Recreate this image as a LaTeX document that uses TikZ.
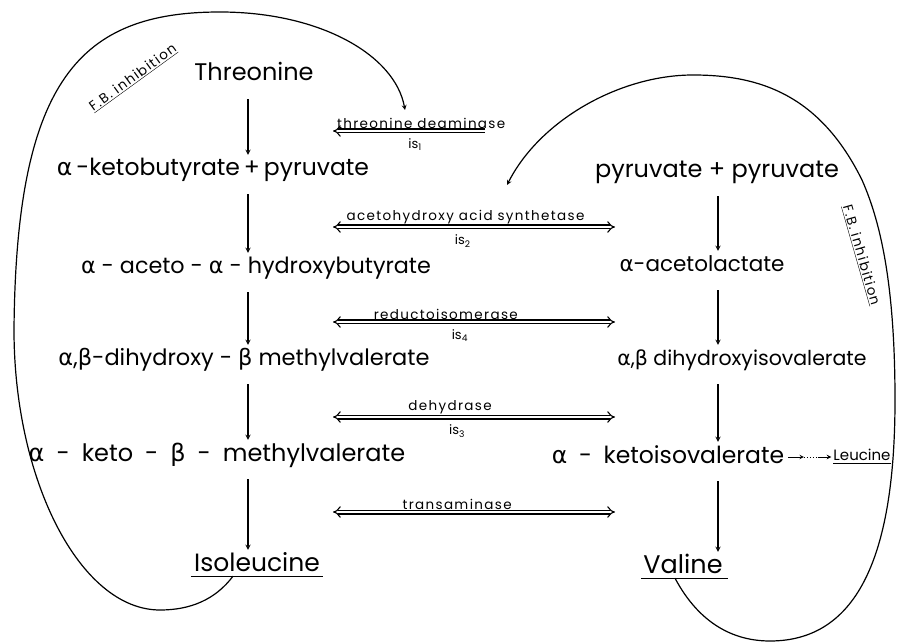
\documentclass[tikz,border=0pt]{standalone}
\usepackage{fontspec}
\setmainfont{Poppins}
\newfontfamily\grk{DejaVu Sans}
\newfontfamily\spaced{Poppins}[LetterSpace=10]
\usetikzlibrary{positioning, arrows, arrows.meta}
\tikzset{
    chem/.style={ % metabolites of the two pathways
        font=\fontsize{#1}{26}\selectfont,
        inner sep=0pt, text height=17pt, text depth=5pt
    },
    chem/.default=23,
    enz/.style={ % enzyme names sitting on the double arrows
        font=\spaced\fontsize{13.5}{15}\selectfont, inner sep=2pt
    },
    iso/.style={font=\fontsize{13}{15}\selectfont, inner sep=1pt},
    every edge/.style={ % the single reaction steps
        draw,
        ->,>=stealth,
        line width=1.3pt,
        shorten <=13pt, shorten >=4pt
    },
    dbl/.style={draw, double, double distance=2.8pt, line width=1.1pt, {Implies}-{Implies}},
    fb/.style={->,>=stealth, line width=1.2pt}, % feedback loops
    uline/.style={line width=1.4pt},
}
\newcommand{\alp}{{\grk α}}
\newcommand{\bet}{{\grk β}}

\begin{document}
\begin{tikzpicture}[x=1pt, y=-1pt]
    \useasboundingbox (0,0) rectangle (897,644);
    \coordinate (lcol) at (248,0);
    \coordinate (rcol) at (718,0);
    % isoleucine branch
    \node[chem=24] (thr) at (254,75)  {Threonine};
    \node[chem=23.5] (kb)  at (213,170) {\alp\,-ketobutyrate\,+\,pyruvate};
    \node[chem=22.3] (aab) at (256,268) {\alp\ - aceto - \alp\ - hydroxybutyrate};
    \node[chem=22.5] (dhm) at (244,360) {\alp,\bet-dihydroxy - \bet\ methylvalerate};
    \node[chem=24] (kbm) at (217,455) {\alp\enspace-\enspace keto\enspace-\enspace\bet\enspace-\enspace methylvalerate};
    \node[chem=25] (ile) at (257,565) {Isoleucine};
    % valine branch
    \node[chem=24] (pp)  at (717,172) {pyruvate + pyruvate};
    \node[chem=21.5] (al)  at (702,266) {\alp-acetolactate};
    \node[chem=20.5] (dhi) at (742,360) {\alp,\bet\ dihydroxyisovalerate};
    \node[chem=23.5] (kiv) at (668,457) {\alp\enspace-\enspace ketoisovalerate};
    \node[chem, font=\fontsize{15}{16}\selectfont, text height=10pt, text depth=3pt]
                (leu) at (862,457) {Leucine};
    \node[chem=25.5] (val) at (683,567) {Valine};

    \draw   (thr.south -| lcol) edge (kb.north -| lcol)
            (kb.south -| lcol)  edge (aab.north -| lcol)
            (aab.south -| lcol) edge (dhm.north -| lcol)
            (dhm.south -| lcol) edge (kbm.north -| lcol)
            (kbm.south -| lcol) edge (ile.north -| lcol)
            (pp.south -| rcol)  edge (al.north -| rcol)
            (al.south -| rcol)  edge (dhi.north -| rcol)
            (dhi.south -| rcol) edge (kiv.north -| rcol)
            (kiv.south -| rcol) edge (val.north -| rcol)
    ;
    \draw[uline] ([xshift=-3pt]ile.south west) -- ([xshift=3pt]ile.south east);
    \draw[uline] ([xshift=-2pt]val.south west) -- ([xshift=5pt]val.south east);
    \draw[line width=1.1pt] (leu.south west) -- (leu.south east);

    % to leucine
    \path (kiv.east) -- coordinate[pos=0.4] (d1) coordinate[pos=0.68] (d2) (leu.west);
    \draw[->,>=stealth, line width=1pt] ([xshift=4pt]kiv.east) -- (d1);
    \draw[dotted, line width=1pt] (d1) -- (d2);
    \draw[->,>=stealth, line width=1pt] (d2) -- ([xshift=-2pt]leu.west);

    % enzymes
    \coordinate (e1l) at (333,131); \coordinate (e1r) at (485,131);
    \coordinate (e2l) at (333,227); \coordinate (e2r) at (615,227);
    \coordinate (e3l) at (333,322); \coordinate (e3r) at (615,322);
    \coordinate (e4l) at (333,417); \coordinate (e4r) at (615,417);
    \coordinate (e5l) at (333,512); \coordinate (e5r) at (615,512);
    \draw[dbl, {Implies}-] (e1l) -- node[enz, above, pos=0.58] {threonine deaminase}
                                    node[iso, below=6pt, pos=0.54] {is\textsubscript{1}} (e1r);
    \draw[dbl] (e2l) -- node[enz, above, pos=0.47] {acetohydroxy acid synthetase}
                        node[iso, below=6pt, pos=0.46] {is\textsubscript{2}} (e2r);
    \draw[dbl] (e3l) -- node[enz, above, pos=0.40] {reductoisomerase}
                        node[iso, below=6pt, pos=0.45] {is\textsubscript{4}} (e3r);
    \draw[dbl] (e4l) -- node[enz, above, pos=0.415] {dehydrase}
                        node[iso, below=6pt, pos=0.44] {is\textsubscript{3}} (e4r);
    \draw[dbl] (e5l) -- node[enz, above, pos=0.44] {transaminase} (e5r);

    % feedback inhibition loops
    \coordinate (tdtip) at (405,110);
    \coordinate (ahtip) at (507,185);
    \draw[fb] ([xshift=-24pt]ile.south)
            .. controls (215,600) and (190,610) .. (160,610)
            .. controls (80,610) and (14,480) .. (14,330)
            .. controls (16,80) and (80,12) .. (220,12)
            .. controls (320,12) and (395,55) .. (tdtip);
    \draw[fb] ([xshift=-8pt]val.south)
            .. controls (700,625) and (735,641) .. (770,641)
            .. controls (865,641) and (895,540) .. (895,400)
            .. controls (895,290) and (882,225) .. (862,180)
            .. controls (820,95) and (760,75) .. (693,75)
            .. controls (620,75) and (540,120) .. (ahtip);
    \node[enz, rotate=36]  (fbl) at (133,78)  {\underline{F.B. inhibition}};
    \node[enz, rotate=-74] (fbr) at (861,255) {\underline{F.B. inhibition}};
\end{tikzpicture}
\end{document}
